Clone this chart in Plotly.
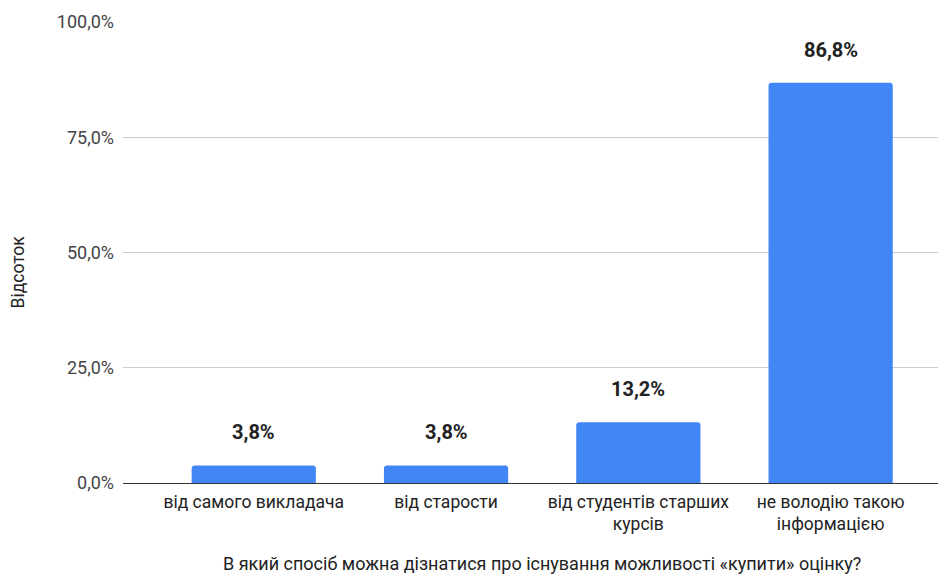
import plotly.graph_objects as go

categories = ["від самого викладача", "від старости", "від студентів старших<br>курсів", "не володію такою<br>інформацією"]
values = [0.038, 0.038, 0.132, 0.868]
value_labels = ["3,8%", "3,8%", "13,2%", "86,8%"]
y_ticks = [0, 0.25, 0.5, 0.75, 1.0]
y_tick_labels = ["0,0%", "25,0%", "50,0%", "75,0%", "100,0%"]
x_title = "В який спосіб можна дізнатися про існування можливості «купити» оцінку?"
y_title = "Відсоток"

FONT = "Roboto, Arial, sans-serif"

fig = go.Figure()
fig.add_trace(go.Bar(
    x=list(range(len(categories))), y=values,
    marker=dict(color="#4285F4", line=dict(width=0)),
    width=0.646,
    hoverinfo="skip",
))

for i, (v, t) in enumerate(zip(values, value_labels)):
    fig.add_annotation(x=i, y=v, text=t, showarrow=False, yanchor="bottom", yshift=19,
                       font=dict(family=FONT, size=20, color="#222222", weight="bold"))

fig.add_annotation(xref="x", yref="paper", x=1.5, y=0, yshift=-80, text=x_title, showarrow=False,
                   font=dict(family=FONT, size=18, color="#222222"), yanchor="middle")
fig.add_annotation(xref="paper", yref="paper", x=0, y=0.5, xshift=-106, yshift=-20, text=y_title,
                   textangle=-90, showarrow=False, font=dict(family=FONT, size=17.5, color="#222222"),
                   xanchor="center", yanchor="middle")

fig.update_layout(
    width=938, height=568,
    margin=dict(l=115, r=0, t=14, b=93, autoexpand=False),
    paper_bgcolor="white", plot_bgcolor="white",
    showlegend=False,
    barcornerradius=3,
    separators=",.",
    xaxis=dict(range=[-0.68, 3.6], tickmode="array", tickvals=list(range(len(categories))),
               ticktext=categories, showgrid=False, zeroline=False, showline=False,
               ticks="", ticklabelstandoff=6, automargin=False,
               tickfont=dict(family=FONT, size=17.5, color="#222222")),
    yaxis=dict(range=[0, 1.0], tickmode="array", tickvals=y_ticks, ticktext=y_tick_labels,
               showgrid=True, gridcolor="#cccccc", gridwidth=1,
               zeroline=True, zerolinecolor="#333333", zerolinewidth=1,
               showline=False, ticks="", ticklabelstandoff=8, automargin=False,
               tickfont=dict(family=FONT, size=18, color="#444444")),
)

fig.write_html("out.html")
